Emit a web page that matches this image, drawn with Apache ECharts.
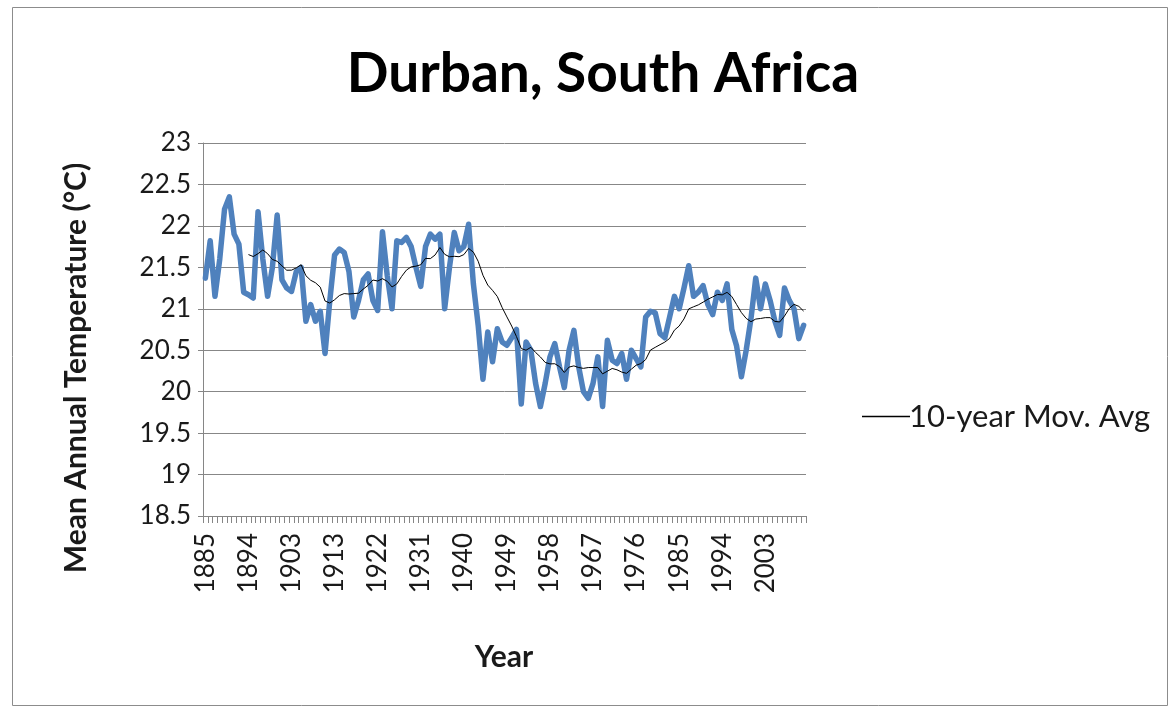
<!DOCTYPE html>
<html>
<head>
<meta charset="utf-8">
<title>Durban, South Africa</title>
<script src="https://cdn.jsdelivr.net/npm/echarts@6/dist/echarts.min.js"></script>
<style>
  html, body { margin: 0; padding: 0; background: #ffffff; }
  #chart { width: 1176px; height: 713px; }
</style>
</head>
<body>
<div id="chart"></div>
<script>
// Station years (1908 has no record)
const years = [
  1885, 1886, 1887, 1888, 1889, 1890, 1891, 1892, 1893, 1894,
  1895, 1896, 1897, 1898, 1899, 1900, 1901, 1902, 1903, 1904,
  1905, 1906, 1907, 1909, 1910, 1911, 1912, 1913, 1914, 1915,
  1916, 1917, 1918, 1919, 1920, 1921, 1922, 1923, 1924, 1925,
  1926, 1927, 1928, 1929, 1930, 1931, 1932, 1933, 1934, 1935,
  1936, 1937, 1938, 1939, 1940, 1941, 1942, 1943, 1944, 1945,
  1946, 1947, 1948, 1949, 1950, 1951, 1952, 1953, 1954, 1955,
  1956, 1957, 1958, 1959, 1960, 1961, 1962, 1963, 1964, 1965,
  1966, 1967, 1968, 1969, 1970, 1971, 1972, 1973, 1974, 1975,
  1976, 1977, 1978, 1979, 1980, 1981, 1982, 1983, 1984, 1985,
  1986, 1987, 1988, 1989, 1990, 1991, 1992, 1993, 1994, 1995,
  1996, 1997, 1998, 1999, 2000, 2001, 2002, 2003, 2004, 2005,
  2006, 2007, 2008, 2009, 2010, 2011
];

// Mean annual temperature, °C
const meanTemp = [
  21.37, 21.82, 21.15, 21.60, 22.20, 22.35, 21.90, 21.78, 21.20, 21.17,
  21.13, 22.17, 21.60, 21.15, 21.50, 22.13, 21.35, 21.25, 21.21, 21.45,
  21.50, 20.85, 21.05, 20.85, 20.97, 20.46, 21.10, 21.65, 21.72, 21.68,
  21.45, 20.90, 21.10, 21.35, 21.42, 21.10, 20.98, 21.93, 21.40, 21.00,
  21.82, 21.80, 21.86, 21.75, 21.50, 21.27, 21.75, 21.90, 21.84, 21.90,
  21.00, 21.50, 21.92, 21.70, 21.75, 22.02, 21.30, 20.80, 20.15, 20.72,
  20.36, 20.76, 20.60, 20.56, 20.65, 20.75, 19.85, 20.60, 20.50, 20.10,
  19.82, 20.10, 20.42, 20.58, 20.30, 20.05, 20.50, 20.74, 20.30, 20.00,
  19.92, 20.10, 20.42, 19.82, 20.62, 20.38, 20.34, 20.46, 20.15, 20.50,
  20.40, 20.30, 20.90, 20.97, 20.95, 20.70, 20.65, 20.90, 21.15, 21.00,
  21.25, 21.52, 21.15, 21.20, 21.28, 21.05, 20.93, 21.20, 21.10, 21.30,
  20.75, 20.55, 20.18, 20.50, 20.88, 21.37, 21.00, 21.30, 21.10, 20.85,
  20.68, 21.25, 21.10, 21.00, 20.64, 20.80
];

// Value axis ticks
const yTicks = [18.5, 19, 19.5, 20, 20.5, 21, 21.5, 22, 22.5, 23];

const WINDOW = 10;

// Trailing 10-year moving average of the annual series
function movingAverage(values, n) {
  return values.map((v, i) => {
    if (i < n - 1) return '-';
    let s = 0;
    for (let k = i - n + 1; k <= i; k++) s += values[k];
    return +(s / n).toFixed(3);
  });
}

const movAvg = movingAverage(meanTemp, WINDOW);

const FONT = 'Lato';
const chart = echarts.init(document.getElementById('chart'), null, { renderer: 'canvas' });

chart.setOption({
  animation: false,
  backgroundColor: '#ffffff',
  title: {
    text: 'Durban, South Africa',
    left: 598,
    top: 42,
    textAlign: 'center',
    textStyle: { fontFamily: FONT, fontWeight: 'bold', fontSize: 55, color: '#000000' }
  },
  legend: {
    data: [{ name: '10-year Mov. Avg', icon: 'rect' }],
    left: 857,
    top: 396,
    itemWidth: 48,
    itemHeight: 1.5,
    itemGap: 4,
    textStyle: { fontFamily: FONT, fontSize: 31, color: '#1a1a1a', padding: [0, 0, 0, -6] }
  },
  grid: { left: 203, right: 370, top: 143, bottom: 197, containLabel: false },
  xAxis: {
    type: 'category',
    data: years,
    boundaryGap: true,
    axisLine: { show: true, lineStyle: { color: '#868686', width: 1 } },
    axisTick: { show: true, interval: 0, length: 7, lineStyle: { color: '#868686' } },
    axisLabel: {
      interval: 8,
      rotate: 90,
      margin: 17,
      fontFamily: FONT,
      fontSize: 26,
      color: '#1a1a1a'
    },
    splitLine: { show: false }
  },
  yAxis: {
    type: 'value',
    min: yTicks[0],
    max: yTicks[yTicks.length - 1],
    interval: 0.5,
    axisLine: { show: true, lineStyle: { color: '#868686', width: 1 } },
    axisTick: { show: true, length: 5, lineStyle: { color: '#868686' } },
    axisLabel: {
      margin: 12,
      fontFamily: FONT,
      fontSize: 26,
      color: '#1a1a1a',
      formatter: v => String(v)
    },
    splitLine: { show: true, lineStyle: { color: '#878787', width: 1 } }
  },
  graphic: [
    {
      type: 'rect',
      silent: true,
      shape: { x: 12.5, y: 7.5, width: 1155, height: 698 },
      style: { fill: 'none', stroke: '#8c8c8c', lineWidth: 1 }
    },
    {
      type: 'text',
      silent: true,
      x: 76,
      y: 368,
      rotation: Math.PI / 2,
      style: {
        text: 'Mean Annual Temperature (°C)',
        fontFamily: FONT,
        fontWeight: 'bold',
        fontSize: 30,
        fill: '#1a1a1a',
        textAlign: 'center',
        textVerticalAlign: 'middle'
      }
    },
    {
      type: 'text',
      silent: true,
      x: 504,
      y: 657,
      style: {
        text: 'Year',
        fontFamily: FONT,
        fontWeight: 'bold',
        fontSize: 30,
        fill: '#1a1a1a',
        textAlign: 'center',
        textVerticalAlign: 'middle'
      }
    }
  ],
  series: [
    {
      name: 'Mean Annual Temperature',
      type: 'line',
      data: meanTemp,
      symbol: 'none',
      smooth: false,
      lineStyle: { color: '#4F81BD', width: 5.5, join: 'round', cap: 'round' },
      itemStyle: { color: '#4F81BD' },
      z: 2
    },
    {
      name: '10-year Mov. Avg',
      type: 'line',
      data: movAvg,
      symbol: 'none',
      connectNulls: false,
      lineStyle: { color: '#000000', width: 1 },
      itemStyle: { color: '#000000' },
      z: 3
    }
  ]
});
</script>
</body>
</html>
